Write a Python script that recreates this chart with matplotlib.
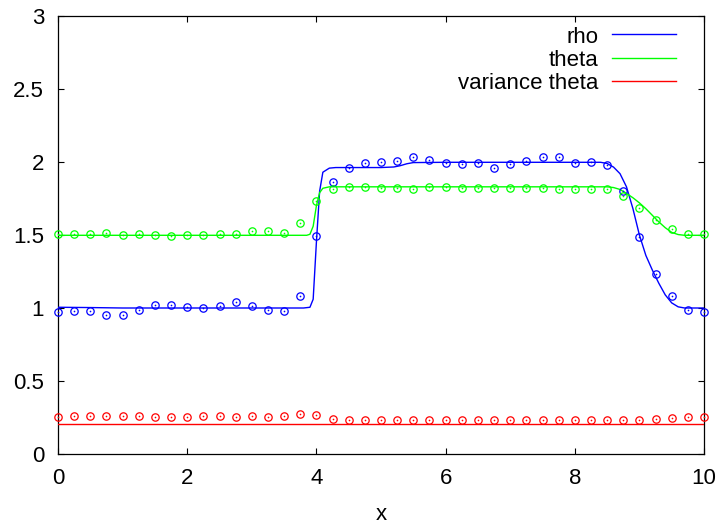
import matplotlib
matplotlib.use("Agg")
import matplotlib.pyplot as plt

plt.rcParams['font.family'] = ['Liberation Sans', 'DejaVu Sans']

# sample points (markers)
x_pts = [0.0, 0.25, 0.5, 0.75, 1.0, 1.25, 1.5, 1.75, 2.0, 2.25, 2.5, 2.75, 3.0, 3.25,
         3.5, 3.75, 4.0, 4.25, 4.5, 4.75, 5.0, 5.25, 5.5, 5.75, 6.0, 6.25, 6.5, 6.75,
         7.0, 7.25, 7.5, 7.75, 8.0, 8.25, 8.5, 8.75, 9.0, 9.25, 9.5, 9.75, 10.0]
rho_pts = [0.970, 0.977, 0.977, 0.950, 0.955, 0.988, 1.022, 1.018, 1.007, 0.998, 1.013,
           1.040, 1.017, 0.986, 0.979, 1.082, 1.492, 1.863, 1.962, 1.996, 2.001, 2.010,
           2.033, 2.014, 1.992, 1.988, 1.996, 1.958, 1.987, 2.010, 2.033, 2.037, 1.992,
           2.003, 1.980, 1.798, 1.489, 1.232, 1.084, 0.988, 0.970]
theta_pts = [1.507, 1.504, 1.507, 1.513, 1.500, 1.507, 1.502, 1.490, 1.497, 1.502, 1.509,
             1.509, 1.524, 1.524, 1.517, 1.582, 1.736, 1.814, 1.828, 1.826, 1.824, 1.824,
             1.816, 1.828, 1.826, 1.825, 1.821, 1.821, 1.821, 1.825, 1.825, 1.816, 1.816,
             1.818, 1.816, 1.768, 1.688, 1.602, 1.538, 1.504, 1.509]
var_pts = [0.256, 0.258, 0.258, 0.258, 0.258, 0.260, 0.256, 0.256, 0.253, 0.258, 0.258,
           0.256, 0.258, 0.256, 0.260, 0.276, 0.265, 0.242, 0.233, 0.233, 0.233, 0.233,
           0.233, 0.233, 0.233, 0.233, 0.233, 0.233, 0.233, 0.233, 0.233, 0.233, 0.233,
           0.233, 0.233, 0.233, 0.233, 0.242, 0.248, 0.256, 0.256]

# continuous curves
rho_x = [0.0, 0.5, 1.0, 2.0, 3.0, 3.8, 3.9, 3.95, 4.0, 4.05, 4.1, 4.2, 4.3, 5.0, 5.2,
         5.3, 5.4, 5.5, 6.0, 8.4, 8.5, 8.6, 8.7, 8.8, 8.9, 9.0, 9.1, 9.2, 9.3, 9.4,
         9.5, 9.6, 9.7, 10.0]
rho_y = [1.005, 1.003, 1.0, 1.0, 1.0, 1.0, 1.005, 1.06, 1.45, 1.80, 1.93, 1.958, 1.962,
         1.962, 1.966, 1.975, 1.988, 1.996, 1.998, 1.998, 1.99, 1.965, 1.92, 1.83, 1.68,
         1.50, 1.36, 1.26, 1.17, 1.09, 1.035, 1.008, 1.0, 1.0]
theta_x = [0.0, 3.85, 3.9, 3.95, 4.0, 4.05, 4.1, 4.2, 8.5, 8.6, 8.7, 8.8, 8.9, 9.0,
           9.1, 9.2, 9.3, 9.4, 9.5, 9.6, 9.7, 10.0]
theta_y = [1.498, 1.498, 1.505, 1.56, 1.70, 1.79, 1.82, 1.83, 1.83, 1.825, 1.812, 1.785,
           1.755, 1.72, 1.68, 1.635, 1.59, 1.55, 1.518, 1.503, 1.498, 1.498]
var_x = [0.0, 10.0]
var_y = [0.203, 0.203]

labels = ['rho', 'theta', 'variance theta']
colors = ['#0000ff', '#00ff00', '#ff0000']

fig = plt.figure(figsize=(7.16, 5.29), dpi=100)
ax = fig.add_axes([58/716, 1 - 454/529, 646/716, 438/529])

curves = [(rho_x, rho_y, rho_pts), (theta_x, theta_y, theta_pts), (var_x, var_y, var_pts)]
for (cx, cy, pts), c in zip(curves, colors):
    ax.plot(cx, cy, color=c, lw=1.0, zorder=3)
    ax.plot(x_pts, pts, ls='none', marker='o', ms=5.3, mfc='none', mec=c, mew=0.9,
            zorder=4, clip_on=False)
    ax.plot(x_pts, pts, ls='none', marker='o', ms=1.2, mfc=c, mec=c, mew=0,
            zorder=4, clip_on=False)

ax.set_xlim(0, 10)
ax.set_ylim(0, 3)
ax.set_xticks([0, 2, 4, 6, 8, 10])
ax.set_yticks([0, 0.5, 1, 1.5, 2, 2.5, 3])
ax.set_yticklabels(['0', '0.5', '1', '1.5', '2', '2.5', '3'])
ax.tick_params(direction='in', length=4.5, width=0.8, top=True, right=True,
               labelsize=16, pad=10, colors='black')
for s in ax.spines.values():
    s.set_linewidth(0.9)
    s.set_color('black')
ax.set_xlabel('x', fontsize=16, labelpad=11)

# legend (gnuplot style: right-aligned text, sample line to the right)
ys = [0.939, 0.886, 0.833]
for lab, c, yy in zip(labels, colors, ys):
    ax.text(0.836, yy, lab, transform=ax.transAxes, ha='right', va='baseline', fontsize=16)
    ax.plot([0.858, 0.957], [yy + 0.019, yy + 0.019], transform=ax.transAxes,
            color=c, lw=1.0)

fig.savefig('out.png', dpi=100)
